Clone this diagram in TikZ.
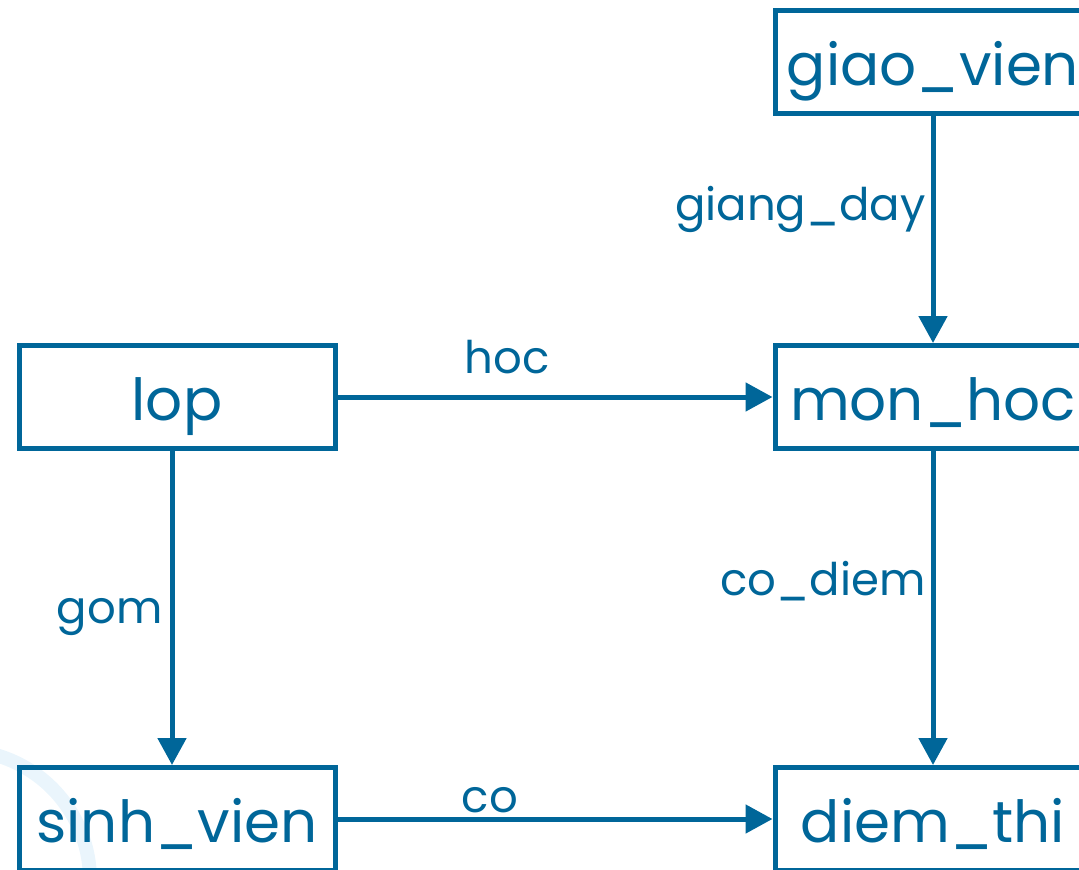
\documentclass[tikz,border=0pt]{standalone}
\usepackage{fontspec}
\setmainfont{Poppins}
\usepackage{tikz}
\usetikzlibrary{arrows.meta}
\definecolor{erblue}{RGB}{0,102,153}
\definecolor{arcblue}{RGB}{234,245,252}

\begin{document}
\begin{tikzpicture}[->,>={Triangle[width=28pt,length=27pt]},line width=5pt,
                    color=erblue,text=erblue]
  \tikzstyle{entity}=[draw, rectangle, line width=5pt, inner sep=0pt,
                      minimum width=316pt, minimum height=103pt,
                      text height=46pt, text depth=0pt,
                      font=\fontsize{58}{70}\selectfont]
  \tikzstyle{lab}=[inner sep=0pt, font=\fontsize{45}{54}\selectfont]

  \useasboundingbox (0,0) rectangle (1079pt,-870pt);
  % faint arc behind the boxes
  \draw[-, line width=14pt, arcblue] (-40pt,-880pt) ++(112:130pt)
       arc[start angle=112, end angle=-5, radius=130pt];

  \node[entity] (L) at (177pt,-397pt)                {lop};
  \node[entity] (M) [node distance=756pt,right of=L] {mon\_hoc};
  \node[entity] (G) [node distance=335pt,above of=M] {giao\_vien};
  \node[entity] (S) [node distance=422pt,below of=L] {sinh\_vien};
  \node[entity] (D) [node distance=756pt,right of=S] {diem\_thi};

  \path (G) edge node[lab, anchor=base east, pos=.46, xshift=-5pt] {giang\_day} (M)
        (L) edge node[lab, anchor=base, pos=.39, yshift=24pt]      {hoc} (M)
        ([xshift=-5pt]L.south) edge
            node[lab, anchor=base east, pos=.55, xshift=-7pt]      {gom} ([xshift=-5pt]S.north)
        (M) edge node[lab, anchor=base east, pos=.46, xshift=-5pt] {co\_diem} (D)
        (S) edge node[lab, anchor=base, pos=.35, yshift=7pt]       {co} (D);
\end{tikzpicture}
\end{document}
